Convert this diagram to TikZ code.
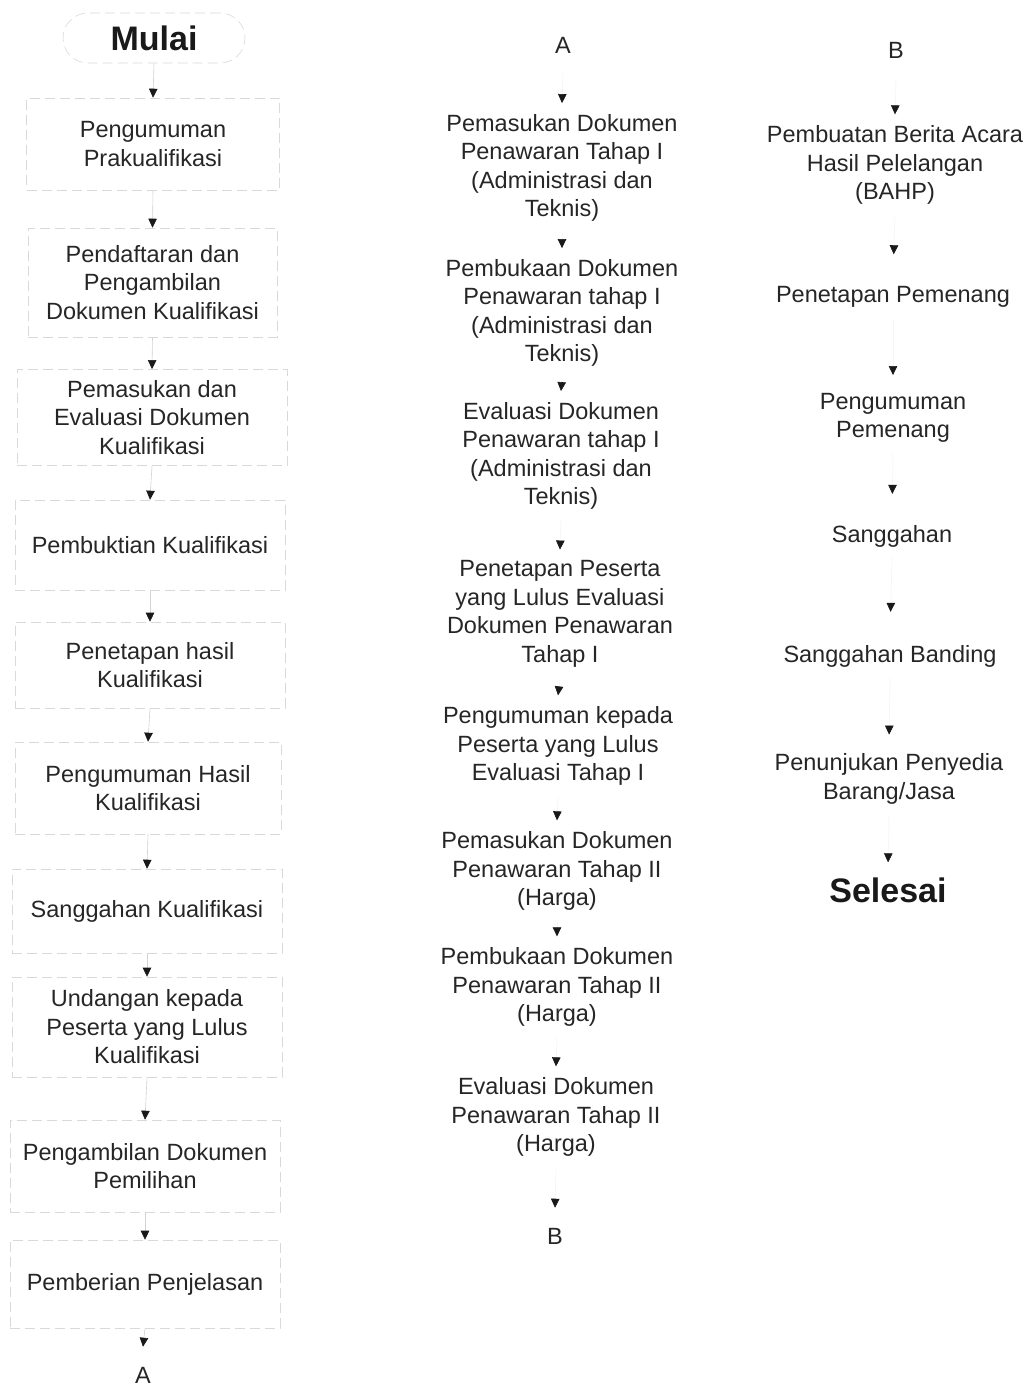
\documentclass[tikz,border=0pt]{standalone}
\usepackage{fontspec}
\setmainfont{Liberation Sans}
\usetikzlibrary{arrows.meta}
\tikzset{
  txt/.style={font=\fontsize{23.5}{28.5}\selectfont, text=black!85, align=center, inner xsep=0pt, inner ysep=11pt},
  lbox/.style={txt, draw=gray!30, dash pattern=on 10pt off 5pt, line width=0.6pt},
  letter/.style={txt, inner ysep=20pt},
  big/.style={font=\fontsize{34}{40}\selectfont\bfseries, text=black!90, inner ysep=11pt},
  conn/.style={draw=gray!35, line width=0.6pt, -{Triangle[width=8.5pt,length=9pt,color=black!90]}},
  connf/.style={conn, draw=gray!8},
}
\begin{document}
\begin{tikzpicture}[x=1pt,y=-1pt]
\useasboundingbox[fill=white] (0,0) rectangle (1033,1387);

% left column
\node[big, draw=gray!30, dash pattern=on 10pt off 5pt, line width=0.6pt, rounded corners=25pt, minimum width=182pt, minimum height=50pt, inner ysep=0pt] (mulai) at (154,38) {Mulai};
\node[lbox, minimum width=253pt, minimum height=92pt] (l1) at (153,144) {Pengumuman\\Prakualifikasi};
\node[lbox, minimum width=249pt, minimum height=109pt] (l2) at (152.5,282.5) {Pendaftaran dan\\Pengambilan\\Dokumen Kualifikasi};
\node[lbox, minimum width=270pt, minimum height=95pt] (l3) at (152,417.5) {Pemasukan dan\\Evaluasi Dokumen\\Kualifikasi};
\node[lbox, minimum width=270pt, minimum height=90pt] (l4) at (150,545) {Pembuktian Kualifikasi};
\node[lbox, minimum width=270pt, minimum height=86pt] (l5) at (150,665) {Penetapan hasil\\Kualifikasi};
\node[lbox, minimum width=266pt, minimum height=92pt] (l6) at (148,788) {Pengumuman Hasil\\Kualifikasi};
\node[lbox, minimum width=270pt, minimum height=84pt] (l7) at (147,911) {Sanggahan Kualifikasi};
\node[lbox, minimum width=270pt, minimum height=100pt] (l8) at (147,1027) {Undangan kepada\\Peserta yang Lulus\\Kualifikasi};
\node[lbox, minimum width=270pt, minimum height=92pt] (l9) at (145,1166) {Pengambilan Dokumen\\Pemilihan};
\node[lbox, minimum width=270pt, minimum height=88pt] (l10) at (145,1284) {Pemberian Penjelasan};
\node[letter] (a1) at (143,1375) {A};

\draw[conn] (mulai.south) -- (l1.north);
\draw[conn] (l1.south) -- (l2.north);
\draw[conn] (l2.south) -- (l3.north);
\draw[conn] (l3.south) -- (l4.north);
\draw[conn] (l4.south) -- (l5.north);
\draw[conn] (l5.south) -- (l6.north);
\draw[conn] (l6.south) -- (l7.north);
\draw[conn] (l7.south) -- (l8.north);
\draw[conn] (l8.south) -- (l9.north);
\draw[conn] (l9.south) -- (l10.north);
\draw[conn] (l10.south) -- (a1.north);

% middle column
\node[letter] (a2) at (563,45) {A};
\node[txt] (m1) at (562,168) {Pemasukan Dokumen\\Penawaran Tahap I\\(Administrasi dan\\Teknis)};
\node[txt] (m2) at (562,313) {Pembukaan Dokumen\\Penawaran tahap I\\(Administrasi dan\\Teknis)};
\node[txt] (m3) at (561,456) {Evaluasi Dokumen\\Penawaran tahap I\\(Administrasi dan\\Teknis)};
\node[txt] (m4) at (560,614) {Penetapan Peserta\\yang Lulus Evaluasi\\Dokumen Penawaran\\Tahap I};
\node[txt] (m5) at (558,746) {Pengumuman kepada\\Peserta yang Lulus\\Evaluasi Tahap I};
\node[txt] (m6) at (557,871) {Pemasukan Dokumen\\Penawaran Tahap II\\(Harga)};
\node[txt] (m7) at (557,987) {Pembukaan Dokumen\\Penawaran Tahap II\\(Harga)};
\node[txt] (m8) at (556,1117) {Evaluasi Dokumen\\Penawaran Tahap II\\(Harga)};
\node[letter] (b1) at (555,1236) {B};

\draw[connf] (a2.south) -- (m1.north);
\draw[connf] (m1.south) -- (m2.north);
\draw[connf] (m2.south) -- (m3.north);
\draw[connf] (m3.south) -- (m4.north);
\draw[connf] (m4.south) -- (m5.north);
\draw[connf] (m5.south) -- (m6.north);
\draw[connf] (m6.south) -- (m7.north);
\draw[connf] (m7.south) -- (m8.north);
\draw[connf] (m8.south) -- (b1.north);

% right column
\node[letter] (b2) at (896,50) {B};
\node[txt] (r1) at (895,165) {Pembuatan Berita Acara\\Hasil Pelelangan\\(BAHP)};
\node[txt] (r2) at (893,297) {Penetapan Pemenang};
\node[txt] (r3) at (893,418) {Pengumuman\\Pemenang};
\node[txt] (r4) at (892,536) {Sanggahan};
\node[txt] (r5) at (890,656) {Sanggahan Banding};
\node[txt] (r6) at (889,779) {Penunjukan Penyedia\\Barang/Jasa};
\node[big] (sel) at (888,890) {Selesai};

\draw[connf] (b2.south) -- (r1.north);
\draw[connf, shorten >=21pt] (r1.south) -- (r2.north);
\draw[connf, shorten >=7pt] (r2.south) -- (r3.north);
\draw[connf, shorten >=20pt] (r3.south) -- (r4.north);
\draw[connf, shorten >=22pt] (r4.south) -- (r5.north);
\draw[connf, shorten >=8pt] (r5.south) -- (r6.north);
\draw[connf, shorten >=4pt] (r6.south) -- (sel.north);
\end{tikzpicture}
\end{document}
